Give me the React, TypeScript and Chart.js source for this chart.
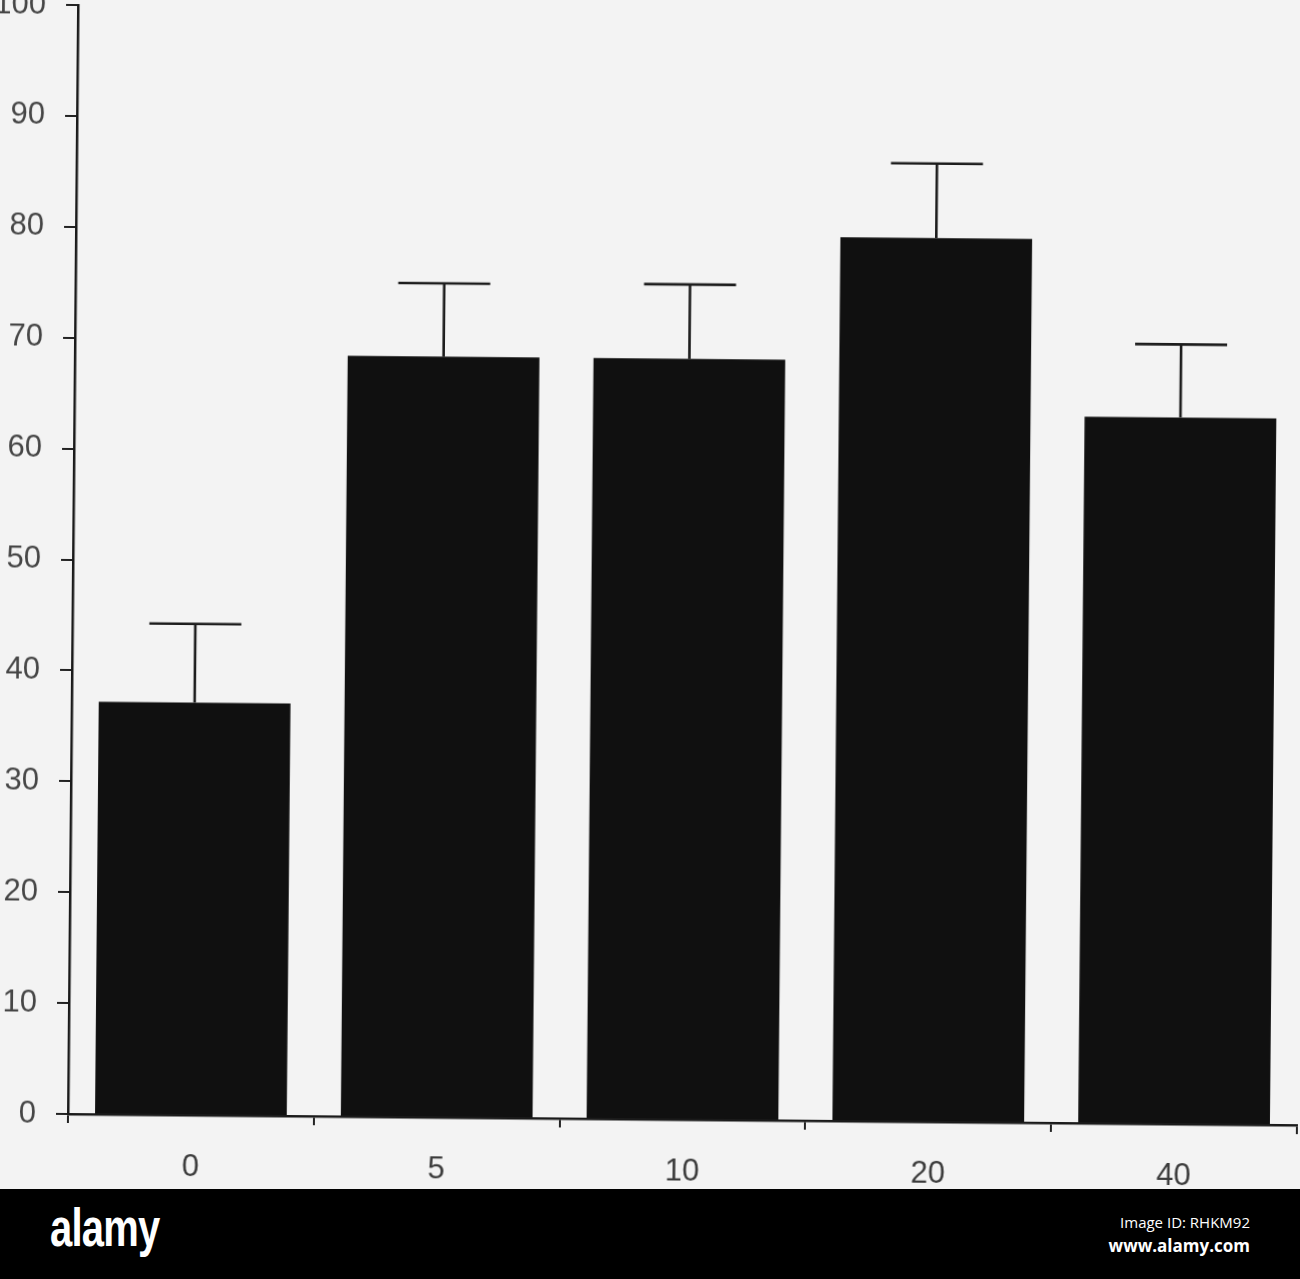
import React, { useEffect, useRef } from 'react';
import { Chart, registerables } from 'chart.js';

Chart.register(...registerables);

const categories = ['0', '5', '10', '20', '40'];
const means = [37.2, 68.6, 68.6, 79.7, 63.7];
const errors = [7.1, 6.6, 6.7, 6.7, 6.6];
const yTickValues = [0, 10, 20, 30, 40, 50, 60, 70, 80, 90, 100];

const errorBarPlugin = {
  id: 'errorBars',
  afterDatasetsDraw(chart: any) {
    const meta = chart.getDatasetMeta(0);
    const y = chart.scales.y;
    const ctx = chart.ctx;
    ctx.save();
    ctx.strokeStyle = '#1c1c1c';
    ctx.lineWidth = 2.6;
    meta.data.forEach((bar: any, i: number) => {
      const x = bar.x;
      const top = y.getPixelForValue(means[i] + errors[i]);
      const base = y.getPixelForValue(means[i]);
      ctx.beginPath();
      ctx.moveTo(x, base);
      ctx.lineTo(x, top);
      ctx.moveTo(x - 46, top);
      ctx.lineTo(x + 46, top);
      ctx.stroke();
    });
    ctx.restore();
  },
};

export default function App() {
  const ref = useRef<HTMLCanvasElement | null>(null);
  useEffect(() => {
    document.body.style.margin = '0';
    const canvas = ref.current;
    if (!canvas) return;
    const chart = new Chart(canvas, {
      type: 'bar',
      data: {
        labels: categories,
        datasets: [
          {
            data: means,
            backgroundColor: '#101010',
            borderWidth: 0,
            barPercentage: 0.78,
            categoryPercentage: 1,
          },
        ],
      },
      options: {
        responsive: false,
        animation: false,
        layout: { padding: { top: 45, bottom: 6, left: 0, right: 3 } },
        plugins: { legend: { display: false }, tooltip: { enabled: false } },
        scales: {
          x: {
            offset: true,
            grid: {
              display: true,
              offset: true,
              drawOnChartArea: false,
              drawTicks: true,
              tickLength: 9,
              color: '#222',
              lineWidth: 2,
            },
            border: { display: true, color: '#1a1a1a', width: 2.5 },
            ticks: {
              color: '#3c3c3c',
              font: { family: 'Liberation Sans, Arial, sans-serif', size: 31 },
              padding: 25,
            },
            afterFit: (s: any) => {
              s.height = 80;
            },
          },
          y: {
            min: 0,
            max: 100,
            afterBuildTicks: (s: any) => {
              s.ticks = yTickValues.map((v) => ({ value: v }));
            },
            grid: {
              display: true,
              drawOnChartArea: false,
              drawTicks: true,
              tickLength: 12,
              color: '#222',
              lineWidth: 2,
            },
            border: { display: true, color: '#1a1a1a', width: 2.5 },
            ticks: {
              color: '#464646',
              font: { family: 'Liberation Sans, Arial, sans-serif', size: 31 },
              padding: 20,
            },
            afterFit: (s: any) => {
              s.width = 128;
            },
          },
        },
      },
      plugins: [errorBarPlugin],
    });
    return () => chart.destroy();
  }, []);

  return (
    <div style={{ position: 'relative', width: 1300, height: 1279, overflow: 'hidden', background: '#f3f3f3' }}>
      <div style={{ position: 'absolute', left: 0, top: 0, width: 1300, height: 1189, overflow: 'hidden' }}>
        <canvas
          ref={ref}
          width={1360}
          height={1240}
          style={{
            position: 'absolute',
            left: -60,
            top: -40,
            width: 1360,
            height: 1240,
            transform: 'rotate(0.52deg)',
            transformOrigin: '128px 1154px',
          }}
        />
      </div>
      <div
        style={{
          position: 'absolute',
          left: 0,
          top: 1189,
          width: 1300,
          height: 90,
          background: '#000',
          color: '#fff',
        }}
      >
        <div
          style={{
            position: 'absolute',
            left: 50,
            top: 8,
            fontFamily: '"Liberation Sans", Arial, sans-serif',
            fontWeight: 'bold',
            fontSize: 54,
            letterSpacing: -1,
            lineHeight: '60px',
            transform: 'scaleX(0.74)',
            transformOrigin: '0 0',
          }}
        >
          alamy
        </div>
        <div
          style={{
            position: 'absolute',
            right: 50,
            top: 22,
            textAlign: 'right',
            fontFamily: '"Open Sans", "Noto Sans", sans-serif',
            lineHeight: '23px',
          }}
        >
          <div style={{ fontSize: 15 }}>Image ID: RHKM92</div>
          <div style={{ fontSize: 17, fontWeight: 'bold' }}>www.alamy.com</div>
        </div>
      </div>
    </div>
  );
}
